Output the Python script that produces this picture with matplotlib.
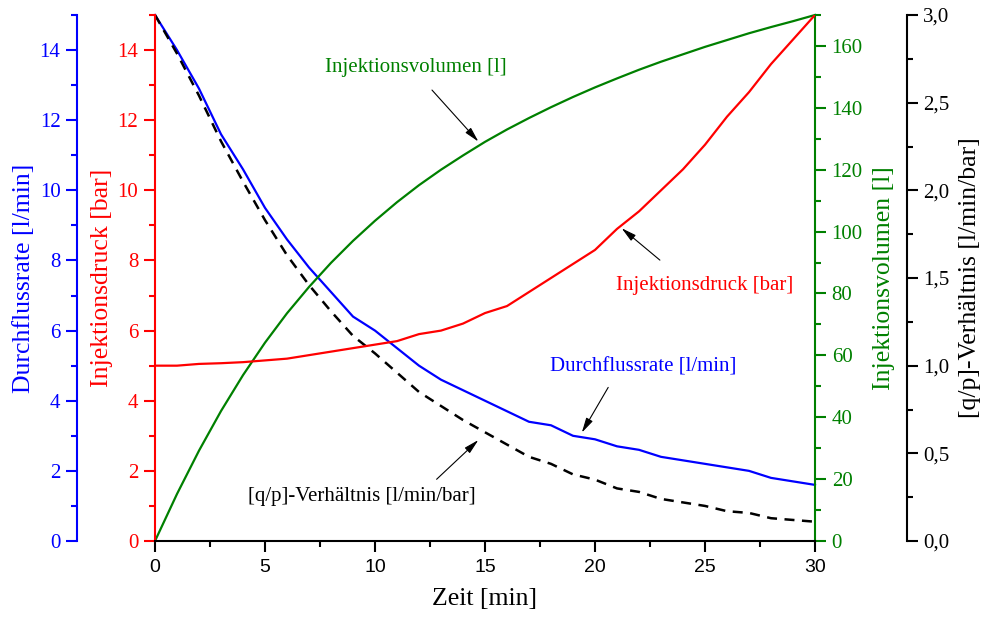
import matplotlib
matplotlib.use("Agg")
import matplotlib.pyplot as plt
from matplotlib.ticker import MultipleLocator, FuncFormatter

# ---------------- data ----------------
zeit = list(range(0, 31))
druck = [5.0, 5.0, 5.05, 5.07, 5.1, 5.15, 5.2, 5.3, 5.4, 5.5, 5.6, 5.7, 5.9, 6.0, 6.2,
         6.5, 6.7, 7.1, 7.5, 7.9, 8.3, 8.9, 9.4, 10.0, 10.6, 11.3, 12.1, 12.8, 13.6, 14.3, 15.0]
durchfluss = [15.0, 14.0, 12.9, 11.6, 10.6, 9.5, 8.6, 7.8, 7.1, 6.4, 6.0, 5.5, 5.0, 4.6, 4.3,
              4.0, 3.7, 3.4, 3.3, 3.0, 2.9, 2.7, 2.6, 2.4, 2.3, 2.2, 2.1, 2.0, 1.8, 1.7, 1.6]
volumen = [0.0, 15.2, 29.2, 42.0, 53.6, 64.1, 73.6, 82.1, 89.9, 97.0, 103.5, 109.5, 115.0,
           120.0, 124.6, 129.0, 133.0, 136.7, 140.2, 143.5, 146.6, 149.5, 152.3, 154.9,
           157.3, 159.7, 161.9, 164.1, 166.1, 168.0, 170.0]
verhaeltnis = [3.0, 2.78, 2.54, 2.28, 2.05, 1.83, 1.63, 1.46, 1.31, 1.17, 1.07, 0.96, 0.85,
               0.77, 0.69, 0.62, 0.55, 0.48, 0.44, 0.38, 0.35, 0.30, 0.28, 0.24, 0.22, 0.20,
               0.17, 0.16, 0.13, 0.12, 0.11]

BLUE = "#0000ff"
RED = "#ff0000"
GREEN = "#008000"
BLACK = "#000000"

SERIF = ["Liberation Serif", "DejaVu Serif"]
SANS = ["Liberation Sans", "DejaVu Sans"]

plt.rcParams["font.family"] = SERIF

fig = plt.figure(figsize=(9.84, 6.21), dpi=100)
L, R, B, T = 155 / 984, 815 / 984, 1 - 541 / 621, 1 - 15 / 621
ax = fig.add_axes([L, B, R - L, T - B])          # red pressure axis (main)
ax_q = ax.twinx()                                 # blue flow axis (outer left)
ax_v = ax.twinx()                                 # green volume axis
ax_r = ax.twinx()                                 # black ratio axis

tick_kw = dict(direction="out", width=1.5)
maj_len, min_len = 8, 4.5
TS = 15          # tick label size (serif)
XTS = 14         # x tick label size (sans)
LS = 18.5        # axis label size
AS = 15          # annotation size

# ---------- main (red) ----------
ax.set_xlim(0, 30)
ax.set_ylim(0, 15)
for s in ["top", "right"]:
    ax.spines[s].set_visible(False)
ax.spines["left"].set_color(RED)
ax.spines["left"].set_linewidth(1.5)
ax.spines["bottom"].set_color(BLACK)
ax.spines["bottom"].set_linewidth(1.5)
ax.yaxis.set_major_locator(MultipleLocator(2))
ax.yaxis.set_minor_locator(MultipleLocator(1))
ax.xaxis.set_major_locator(MultipleLocator(5))
ax.xaxis.set_minor_locator(MultipleLocator(2.5))
ax.tick_params(axis="y", which="both", colors=RED, labelcolor=RED, labelsize=TS, pad=4, **tick_kw)
ax.tick_params(axis="y", which="major", length=maj_len)
ax.tick_params(axis="y", which="minor", length=min_len)
ax.tick_params(axis="x", which="both", colors=BLACK, labelsize=XTS, pad=5, **tick_kw)
ax.tick_params(axis="x", which="major", length=maj_len)
ax.tick_params(axis="x", which="minor", length=min_len)
for lab in ax.get_xticklabels():
    lab.set_fontfamily(SANS)
ax.set_xlabel("Zeit [min]", fontsize=LS, color=BLACK)
ax.xaxis.set_label_coords(0.5, -0.090)
ax.set_ylabel("Injektionsdruck [bar]", fontsize=LS, color=RED)
ax.yaxis.set_label_coords(-0.0636, 0.5)
ax.plot(zeit, druck, color=RED, lw=1.6, zorder=3)

# ---------- blue flow axis ----------
ax_q.set_ylim(0, 15)
for s in ["top", "right", "bottom"]:
    ax_q.spines[s].set_visible(False)
ax_q.spines["left"].set_visible(True)
ax_q.spines["left"].set_position(("axes", -0.118))
ax_q.spines["left"].set_color(BLUE)
ax_q.spines["left"].set_linewidth(1.5)
ax_q.yaxis.set_ticks_position("left")
ax_q.yaxis.set_label_position("left")
ax_q.yaxis.set_major_locator(MultipleLocator(2))
ax_q.yaxis.set_minor_locator(MultipleLocator(1))
ax_q.tick_params(axis="y", which="both", colors=BLUE, labelcolor=BLUE, labelsize=TS, pad=4, **tick_kw)
ax_q.tick_params(axis="y", which="major", length=maj_len)
ax_q.tick_params(axis="y", which="minor", length=min_len)
ax_q.set_ylabel("Durchflussrate [l/min]", fontsize=LS, color=BLUE)
ax_q.yaxis.set_label_coords(-0.182, 0.5)

# ---------- green volume axis ----------
ax_v.set_ylim(0, 170)
for s in ["top", "left", "bottom"]:
    ax_v.spines[s].set_visible(False)
ax_v.spines["right"].set_color(GREEN)
ax_v.spines["right"].set_linewidth(1.5)
ax_v.yaxis.set_major_locator(MultipleLocator(20))
ax_v.yaxis.set_minor_locator(MultipleLocator(10))
ax_v.tick_params(axis="y", which="both", colors=GREEN, labelcolor=GREEN, labelsize=TS, pad=4, **tick_kw)
ax_v.tick_params(axis="y", which="major", length=maj_len)
ax_v.tick_params(axis="y", which="minor", length=min_len)
ax_v.set_ylabel("Injektionsvolumen [l]", fontsize=LS, color=GREEN)
ax_v.yaxis.set_label_coords(1.088, 0.5)

# ---------- black ratio axis ----------
ax_r.set_ylim(0, 3.0)
for s in ["top", "left", "bottom"]:
    ax_r.spines[s].set_visible(False)
ax_r.spines["right"].set_position(("axes", 1.139))
ax_r.spines["right"].set_color(BLACK)
ax_r.spines["right"].set_linewidth(1.5)
ax_r.yaxis.set_major_locator(MultipleLocator(0.5))
ax_r.yaxis.set_minor_locator(MultipleLocator(0.25))
ax_r.yaxis.set_major_formatter(FuncFormatter(lambda v, p: f"{v:.1f}".replace(".", ",")))
ax_r.tick_params(axis="y", which="both", colors=BLACK, labelcolor=BLACK, labelsize=TS, pad=4, **tick_kw)
ax_r.tick_params(axis="y", which="major", length=maj_len)
ax_r.tick_params(axis="y", which="minor", length=min_len)
ax_r.set_ylabel("[q/p]-Verhältnis [l/min/bar]", fontsize=LS, color=BLACK)
ax_r.yaxis.set_label_coords(1.218, 0.5)

# ---------- lines ----------
ax_v.plot(zeit, volumen, color=GREEN, lw=1.6, zorder=3, clip_on=False)
ax_r.plot(zeit, verhaeltnis, color=BLACK, lw=1.8, linestyle=(0, (4, 3)), zorder=3, clip_on=False)
ax_q.plot(zeit, durchfluss, color=BLUE, lw=1.6, zorder=4, clip_on=False)

# ---------- annotations (in pressure-axis data coordinates) ----------
arrow = dict(arrowstyle="-|>,head_length=0.9,head_width=0.22", color=BLACK, lw=0.8,
             shrinkA=0, shrinkB=0)
ax.text(11.84, 13.49, "Injektionsvolumen [l]", color=GREEN, fontsize=AS,
        ha="center", va="center", zorder=10)
ax.annotate("", xy=(14.70, 11.39), xytext=(12.59, 12.86), arrowprops=arrow, zorder=10)
ax.text(25.0, 7.30, "Injektionsdruck [bar]", color=RED, fontsize=AS,
        ha="center", va="center", zorder=10)
ax.annotate("", xy=(21.21, 8.92), xytext=(22.95, 8.01), arrowprops=arrow, zorder=10)
ax.text(22.18, 4.95, "Durchflussrate [l/min]", color=BLUE, fontsize=AS,
        ha="center", va="center", zorder=10)
ax.annotate("", xy=(19.4, 3.09), xytext=(20.6, 4.38), arrowprops=arrow, zorder=10)
ax.text(9.40, 1.28, "[q/p]-Verhältnis [l/min/bar]", color=BLACK, fontsize=AS,
        ha="center", va="center", zorder=10)
ax.annotate("", xy=(14.7, 2.88), xytext=(12.8, 1.76), arrowprops=arrow, zorder=10)

# main axis (with texts/arrows) above the twin axes
ax.set_zorder(ax_r.get_zorder() + 1)
ax.patch.set_visible(False)

fig.savefig("out.png", dpi=100)
